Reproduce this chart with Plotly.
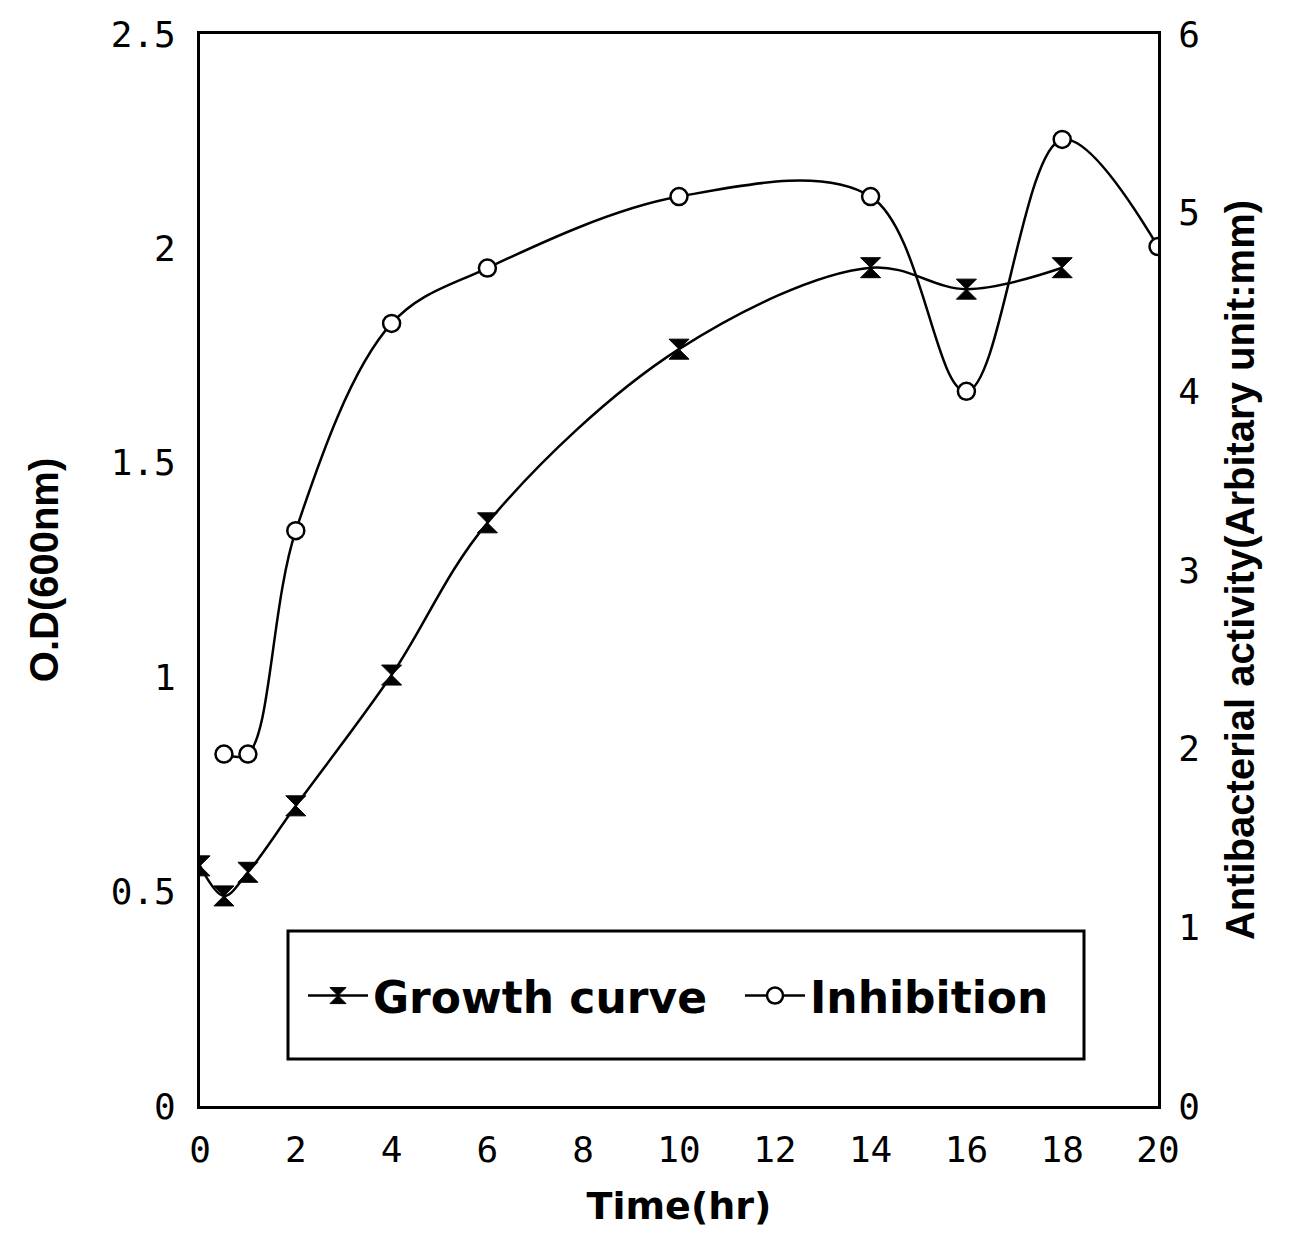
import plotly.graph_objects as go

time_growth = [0, 0.5, 1, 2, 4, 6, 10, 14, 16, 18]
od600 = [0.56, 0.49, 0.545, 0.70, 1.005, 1.36, 1.765, 1.955, 1.905, 1.955]

time_inhib = [0.5, 1, 2, 4, 6, 10, 14, 16, 18, 20]
inhibition = [1.97, 1.97, 3.22, 4.38, 4.69, 5.09, 5.09, 4.0, 5.41, 4.81]

x_ticks = [0, 2, 4, 6, 8, 10, 12, 14, 16, 18, 20]
y_ticks = [0, 0.5, 1, 1.5, 2, 2.5]
y_tick_text = ["0", "0.5", "1", "1.5", "2", "2.5"]
y2_ticks = [0, 1, 2, 3, 4, 5, 6]

W, H = 1305, 1235
OFF = 7  # page body offset
L, R, T, B = 199 - OFF, W - 1157 + OFF, 33 - OFF, H - 1105 + OFF
pw = W - L - R
ph = H - T - B

def px(x):
    return (x - OFF - L) / pw

def py(y):
    return (H - B - (y - OFF)) / ph

tick_font = dict(family="DejaVu Sans Mono, monospace", size=36, color="black")
title_font = dict(family="Liberation Sans, Arial", size=40, color="black")

fig = go.Figure()
fig.add_trace(go.Scatter(
    x=time_growth, y=od600, name="Growth curve", mode="lines+markers",
    line=dict(color="black", width=2.5, shape="spline", smoothing=1.0),
    marker=dict(symbol="hourglass", size=20, color="black", line=dict(color="black", width=1)),
    yaxis="y",
))
fig.add_trace(go.Scatter(
    x=time_inhib, y=inhibition, name="Inhibition", mode="lines+markers",
    line=dict(color="black", width=2.5, shape="spline", smoothing=1.0),
    marker=dict(symbol="circle", size=17, color="white", line=dict(color="black", width=2.5)),
    yaxis="y2",
))

fig.update_layout(
    width=W, height=H,
    margin=dict(l=L, r=R, t=T, b=B, autoexpand=False),
    paper_bgcolor="white", plot_bgcolor="white",
    xaxis=dict(
        range=[0, 20], tickvals=x_ticks, ticks="", showgrid=False, zeroline=False,
        showline=True, linecolor="black", linewidth=3, mirror=True, automargin=False,
        tickfont=tick_font, ticklabelstandoff=10,
        title=dict(text="<b>Time(hr)</b>", font=dict(family="DejaVu Sans, Arial", size=38, color="black"), standoff=24),
    ),
    yaxis=dict(
        range=[0, 2.5], tickvals=y_ticks, ticktext=y_tick_text, ticks="", showgrid=False, zeroline=False,
        showline=True, linecolor="black", linewidth=3, automargin=False,
        tickfont=tick_font, ticklabelstandoff=14,
        title=dict(text="<b>O.D(600nm)</b>", font=title_font, standoff=40),
    ),
    yaxis2=dict(
        range=[0, 6], tickvals=y2_ticks, ticks="", showgrid=False, zeroline=False,
        overlaying="y", side="right", automargin=False,
        showline=True, linecolor="black", linewidth=3,
        tickfont=tick_font, ticklabelstandoff=10,
        title=dict(text="<b>Antibacterial activity(Arbitary unit:mm)</b>", font=title_font, standoff=28),
    ),
    legend=dict(
        orientation="h", x=px(302), y=py(995), xanchor="left", yanchor="middle",
        bgcolor="rgba(0,0,0,0)", borderwidth=0,
        font=dict(family="DejaVu Sans, Arial", size=44, color="black", weight="bold"),
        itemwidth=60, entrywidth=362, tracegroupgap=0,
    ),
    showlegend=True,
    shapes=[dict(
        type="rect", xref="paper", yref="paper",
        x0=px(287), x1=px(1083), y0=py(1058), y1=py(930),
        line=dict(color="black", width=3), fillcolor="rgba(0,0,0,0)", layer="above",
    )],
)

fig.write_html("out.html")
